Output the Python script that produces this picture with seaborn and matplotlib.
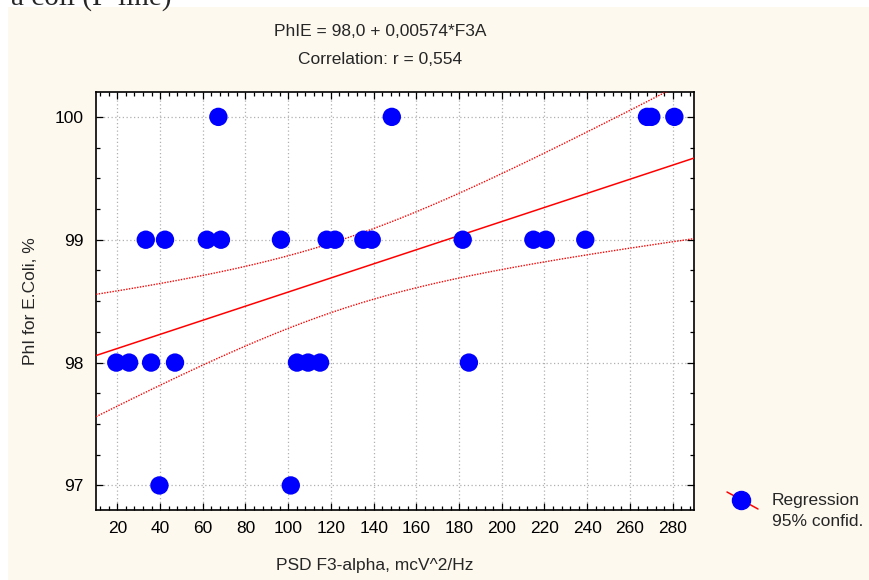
import numpy as np
import pandas as pd
import matplotlib
matplotlib.use("Agg")
import matplotlib.pyplot as plt
from matplotlib.lines import Line2D
from matplotlib.ticker import MultipleLocator
import seaborn as sns

# PSD F3-alpha values grouped by the PhI level they were measured at
psd_phi97 = [39.7, 101.2]
psd_phi98 = [19.5, 25.5, 35.8, 47.0, 104.1, 109.3, 114.9, 184.6]
psd_phi99 = [33.3, 42.3, 61.9, 68.5, 96.6, 118.0, 121.9, 135.2, 139.1,
             181.7, 214.8, 220.6, 239.1]
psd_phi100 = [67.3, 148.5, 268.0, 270.0, 280.8]
phi_levels = [97, 98, 99, 100]

# regression coefficients printed in the header
intercept = 98.0
slope = 0.00574
corr_r = 0.554

x_ticks = list(range(20, 281, 20))
y_ticks = [97, 98, 99, 100]

groups = [psd_phi97, psd_phi98, psd_phi99, psd_phi100]
df = pd.DataFrame({
    "psd": np.concatenate([np.asarray(g, float) for g in groups]),
    "phi": np.concatenate([[lvl] * len(g) for lvl, g in zip(phi_levels, groups)]).astype(float),
})

# fitted line and 95% confidence band for the mean
x_lo, x_hi = 10, 290
xs = np.linspace(x_lo, x_hi, 300)
fit = intercept + slope * xs
n = len(df)
resid = df["phi"] - (intercept + slope * df["psd"])
s = np.sqrt((resid ** 2).sum() / (n - 2))
xbar = df["psd"].mean()
sxx = ((df["psd"] - xbar) ** 2).sum()
t_crit = 2.056
half = t_crit * s * np.sqrt(1 / n + (xs - xbar) ** 2 / sxx)
band = pd.DataFrame({"x": xs, "fit": fit, "lo": fit - half, "hi": fit + half})

sns.set_theme(style="white")
plt.rcParams["font.family"] = ["Liberation Sans", "DejaVu Sans"]
FS = 12.5

cream = "#FDF9EF"
fig = plt.figure(figsize=(8.7, 5.8), dpi=100, facecolor="white")
# cream panel behind the chart
fig.patches.append(plt.Rectangle((8 / 870, 0), 1, 1 - 7 / 580, transform=fig.transFigure,
                                 facecolor=cream, edgecolor="none", zorder=-10))

ax = fig.add_axes([96 / 870, 1 - 510 / 580, (694 - 96) / 870, (510 - 92.3) / 580])
ax.set_facecolor("white")

sns.lineplot(data=band, x="x", y="fit", ax=ax, color="red", linewidth=1.1, zorder=3)
sns.lineplot(data=band, x="x", y="lo", ax=ax, color="red", linewidth=1.0,
             linestyle=(0, (1, 1)), zorder=3)
sns.lineplot(data=band, x="x", y="hi", ax=ax, color="red", linewidth=1.0,
             linestyle=(0, (1, 1)), zorder=3)
sns.scatterplot(data=df, x="psd", y="phi", ax=ax, color="blue", s=175,
                edgecolor="none", zorder=4, clip_on=True)

ax.set_xlim(x_lo, x_hi)
ax.set_ylim(96.8, 100.2)
ax.set_xticks(x_ticks)
ax.set_yticks(y_ticks)
ax.xaxis.set_minor_locator(MultipleLocator(4))
ax.yaxis.set_minor_locator(MultipleLocator(0.25))
ax.grid(True, which="major", color="#B0B0B0", linestyle=(0, (1, 2)), linewidth=0.9)
ax.tick_params(which="both", direction="in", top=True, right=True, bottom=True, left=True,
               colors="black", labelsize=FS, width=0.9)
ax.tick_params(which="major", length=5)
ax.tick_params(which="minor", length=3)
ax.tick_params(axis="x", pad=8)
ax.tick_params(axis="y", pad=9)
for sp in ax.spines.values():
    sp.set_visible(True)
    sp.set_color("black")
    sp.set_linewidth(1.2)

ax.set_xlabel("PSD F3-alpha, mcV^2/Hz", fontsize=FS)
ax.set_ylabel("PhI for E.Coli, %", fontsize=FS)
ax.xaxis.set_label_coords((375 - 96) / (694 - 96), -(558 - 510) / (510 - 92.3))
ax.yaxis.set_label_coords(-(96 - 38) / (694 - 96), 0.5)

fig.text(380 / 870, 1 - 32 / 580, f"PhIE = {intercept:.1f} + {slope:.5f}*F3A".replace(".", ","),
         ha="center", va="center", fontsize=FS)
fig.text(380 / 870, 1 - 60 / 580, f"Correlation: r = {corr_r:.3f}".replace(".", ","),
         ha="center", va="center", fontsize=FS)

# legend: marker crossed by the regression line
fig.add_artist(Line2D([727 / 870, 758 / 870], [1 - 492 / 580, 1 - 509 / 580],
                      color="red", linewidth=1.1, transform=fig.transFigure))
fig.add_artist(Line2D([741 / 870], [1 - 500 / 580], marker="o", markersize=13,
                      color="blue", markeredgecolor="blue", linestyle="none",
                      transform=fig.transFigure))
fig.text(772 / 870, 1 - 500 / 580, "Regression", ha="left", va="center", fontsize=FS)
fig.text(772 / 870, 1 - 522 / 580, "95% confid.", ha="left", va="center", fontsize=FS)

# page caption running above the panel
fig.text(172 / 870, 1 - 5 / 580, "a coli (P-line)", ha="right", va="baseline",
         fontsize=21, family=["Liberation Serif", "DejaVu Serif"])

fig.savefig("out.png", dpi=100, facecolor="white")
